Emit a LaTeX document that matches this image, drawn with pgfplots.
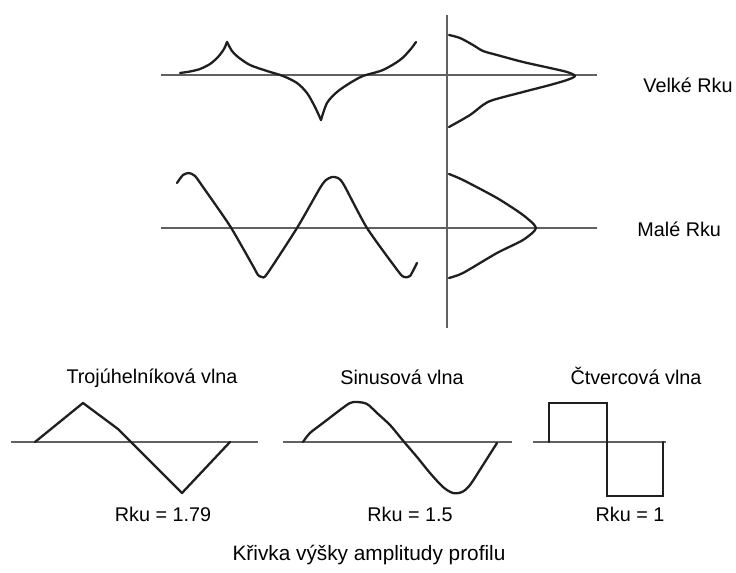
\documentclass[border=0pt]{standalone}
\usepackage{fontspec}
\setmainfont{Liberation Sans}
\usepackage{pgfplots}
\pgfplotsset{compat=1.18}

% one unit = one pixel of the 736 x 573 reference
\pgfplotsset{
  curve/.style={draw=black!88, line width=1.15pt, line join=round, line cap=round},
  base/.style={draw=black!62, line width=0.75pt},
}
\tikzset{lbl/.style={font=\fontsize{9.9}{11}\selectfont, text=black, inner sep=0pt}}

\begin{document}
\begin{tikzpicture}
\begin{axis}[
    name=ax,
    scale only axis,
    width=368pt, height=286.5pt,
    xmin=0, xmax=736, ymin=0, ymax=573,
    y dir=reverse,
    hide axis,
    clip=false,
]
% reference lines
\addplot[base] coordinates {(161,75) (597,75)};
\addplot[base] coordinates {(161,228) (597,228)};
\addplot[base, line width=1pt] coordinates {(447.5,15) (447.5,328)};
\addplot[base] coordinates {(11,442) (258,442)};
\addplot[base] coordinates {(283,442) (512,442)};
\addplot[base] coordinates {(533,442) (666,442)};

% cusped profile (large Rku)
\addplot[curve, smooth, tension=0.5] coordinates {
  (180,73) (190,71.5) (200,69) (210,64) (218,57) (224,49) (227,42)};
\addplot[curve, smooth, tension=0.5] coordinates {
  (227,42) (232,51) (238,57) (250,65) (267,71) (283,76) (297,83) (307,93) (315,107) (321,120)};
\addplot[curve, smooth, tension=0.5] coordinates {
  (321,120) (327,103) (337,92) (350,83) (363,76) (383,70) (400,60) (410,50) (416,42)};

% distribution (large Rku)
\addplot[curve, smooth, tension=0.5] coordinates {
  (449,35) (460,38) (473,45) (483,51) (497,55) (523,62) (550,68) (567,72) (575,76)
  (567,80) (550,85) (523,92) (493,100) (483,105) (470,115) (449,127)};

% triangular-like profile (small Rku)
\addplot[curve, smooth, tension=0.4] coordinates {
  (177,183) (183,175) (189,173) (195,176) (203,187) (230,226) (253,266) (258,275) (262,277)
  (267,274) (297,228) (320,188) (326,180) (332,177) (338,178) (344,185) (367,228)
  (398,271) (404,277) (410,276) (417,263)};

% distribution (small Rku)
\addplot[curve, smooth, tension=0.4] coordinates {
  (449,174) (463,180) (497,198) (523,215) (536,228) (523,240) (497,253) (463,273) (449,278)};

% triangle wave
\addplot[curve] coordinates {(35,442) (83,403) (118,429) (182,493) (230,442)};

% sine wave
\addplot[curve, smooth, tension=0.5] coordinates {
  (303,442) (310,433) (323,423) (340,410) (350,403) (357,402) (367,404) (377,413)
  (390,425) (400,437) (405,443) (417,457) (430,473) (443,487) (453,493) (462,492)
  (470,485) (483,465) (497,443)};

% square wave
\addplot[curve, line join=miter] coordinates {
  (549,442) (549,403) (607,403) (607,496) (663,496) (663,442)};

% labels
\node[lbl, anchor=base west] at (axis cs:643,93) {Velké Rku};
\node[lbl, anchor=base west] at (axis cs:637,237) {Malé Rku};
\node[lbl, anchor=base] at (axis cs:152,384) {Trojúhelníková vlna};
\node[lbl, anchor=base] at (axis cs:402,385) {Sinusová vlna};
\node[lbl, anchor=base] at (axis cs:636,385) {Čtvercová vlna};
\node[lbl, anchor=base] at (axis cs:163,522) {Rku = 1.79};
\node[lbl, anchor=base] at (axis cs:410,522) {Rku = 1.5};
\node[lbl, anchor=base] at (axis cs:630,522) {Rku = 1};
\node[lbl, anchor=base, font=\fontsize{10.4}{12}\selectfont] at (axis cs:369,561) {Křivka výšky amplitudy profilu};
\end{axis}
\pgfresetboundingbox
\path[use as bounding box] (ax.south west) rectangle (ax.north east);
\end{tikzpicture}
\end{document}
